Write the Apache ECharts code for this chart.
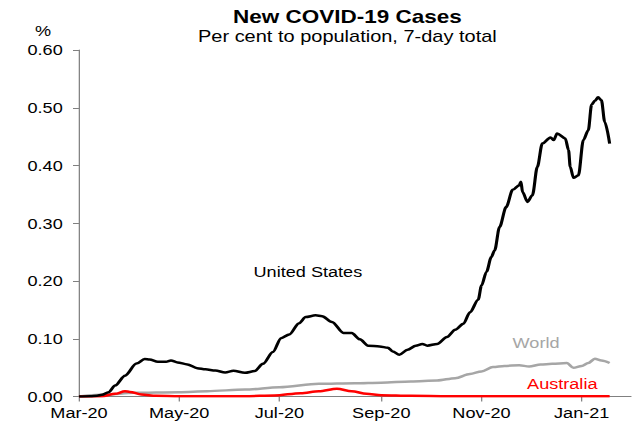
<!DOCTYPE html>
<html>
<head>
<meta charset="utf-8">
<script src="https://cdn.jsdelivr.net/npm/echarts@6/dist/echarts.min.js"></script>
<style>
  html, body { margin: 0; padding: 0; background: #fff; overflow: hidden; }
  #wrap { width: 641px; height: 422px; overflow: hidden; }
  /* chart is laid out narrower and widened horizontally */
  #chart { width: 513px; height: 422px; transform: scaleX(1.2495); transform-origin: 0 0; }
</style>
</head>
<body>
<div id="wrap"><div id="chart"></div></div>
<script>
// New COVID-19 cases, per cent of population, 7-day total
const usDates = ['2020-03-01','2020-03-08','2020-03-12','2020-03-15','2020-03-19','2020-03-23','2020-03-29','2020-04-05','2020-04-10','2020-04-13','2020-04-18','2020-04-23','2020-04-26','2020-04-30','2020-05-06','2020-05-12','2020-05-17','2020-05-23','2020-05-29','2020-06-03','2020-06-10','2020-06-16','2020-06-21','2020-06-27','2020-07-02','2020-07-07','2020-07-13','2020-07-17','2020-07-23','2020-07-27','2020-08-02','2020-08-09','2020-08-14','2020-08-19','2020-08-24','2020-08-31','2020-09-05','2020-09-08','2020-09-12','2020-09-17','2020-09-22','2020-09-26','2020-09-29','2020-10-05','2020-10-11','2020-10-16','2020-10-21','2020-10-25','2020-10-30','2020-11-01','2020-11-04','2020-11-07','2020-11-09','2020-11-12','2020-11-16','2020-11-20','2020-11-24','2020-11-25','2020-11-26','2020-11-29','2020-12-02','2020-12-05','2020-12-08','2020-12-13','2020-12-15','2020-12-17','2020-12-22','2020-12-24','2020-12-25','2020-12-27','2020-12-30','2021-01-02','2021-01-05','2021-01-07','2021-01-09','2021-01-11','2021-01-13','2021-01-15','2021-01-18'];
const usValues = [0,0.0005,0.0015,0.003,0.0075,0.019,0.036,0.057,0.065,0.064,0.060,0.060,0.0624,0.059,0.0555,0.049,0.047,0.045,0.0416,0.0445,0.041,0.044,0.0566,0.077,0.101,0.1075,0.127,0.1376,0.1405,0.139,0.129,0.110,0.110,0.099,0.088,0.0867,0.0844,0.078,0.0723,0.081,0.088,0.091,0.088,0.091,0.103,0.1156,0.126,0.146,0.1676,0.192,0.2156,0.2416,0.253,0.2936,0.328,0.358,0.366,0.372,0.354,0.337,0.3486,0.3977,0.438,0.4486,0.444,0.4555,0.4468,0.4266,0.3977,0.3786,0.383,0.444,0.461,0.505,0.512,0.518,0.513,0.4757,0.438];

const worldDates = ['2020-03-01','2020-03-18','2020-04-03','2020-05-01','2020-05-18','2020-06-10','2020-07-01','2020-07-25','2020-08-16','2020-09-01','2020-09-19','2020-10-05','2020-10-16','2020-10-25','2020-11-01','2020-11-08','2020-11-15','2020-11-24','2020-11-30','2020-12-07','2020-12-14','2020-12-23','2020-12-27','2021-01-01','2021-01-05','2021-01-09','2021-01-13','2021-01-18'];
const worldValues = [0.0002,0.0035,0.0064,0.0075,0.0092,0.012,0.016,0.022,0.023,0.024,0.026,0.0277,0.0318,0.039,0.0434,0.051,0.053,0.054,0.052,0.0555,0.0566,0.058,0.0497,0.053,0.058,0.0653,0.0624,0.058];

const ausDates = ['2020-03-01','2020-03-15','2020-03-23','2020-03-29','2020-04-01','2020-04-08','2020-04-17','2020-05-01','2020-06-10','2020-06-28','2020-07-14','2020-07-25','2020-08-05','2020-08-14','2020-08-23','2020-09-01','2020-09-19','2020-10-12','2021-01-18'];
const ausValues = [0,0.0005,0.0046,0.0092,0.008,0.0035,0.0012,0.0005,0.0005,0.0017,0.0058,0.0092,0.0135,0.0092,0.0046,0.0023,0.0012,0.0005,0.0004];

const tickDates = ['2020-03-01','2020-05-01','2020-07-01','2020-09-01','2020-11-01','2021-01-01'];
const monthNames = ['Jan','Feb','Mar','Apr','May','Jun','Jul','Aug','Sep','Oct','Nov','Dec'];

function toTime(s) {
  const p = s.split('-').map(Number);
  return new Date(p[0], p[1] - 1, p[2]).getTime();
}
function pairs(dates, values) {
  return dates.map((d, i) => [toTime(d), values[i]]);
}
const tickTimes = tickDates.map(toTime);

const FONT = "'Liberation Sans', Arial, sans-serif";

const chart = echarts.init(document.getElementById('chart'), null, { renderer: 'svg' });

const lineBase = {
  type: 'line',
  showSymbol: false,
  symbol: 'none',
  smooth: 0.3,
  smoothMonotone: 'x',
  animation: false
};

chart.setOption({
  animation: false,
  backgroundColor: '#fff',
  grid: { left: 63.2, right: 8, top: 50, bottom: 25.5, containLabel: false },
  xAxis: {
    // dates as timestamps on a value scale, ticks at every second month start
    type: 'value',
    min: toTime('2020-03-01'),
    max: toTime('2021-01-31'),
    axisLine: { show: true, lineStyle: { color: '#808080', width: 1 } },
    axisTick: { show: true, length: 5, customValues: tickTimes, lineStyle: { color: '#808080' } },
    axisLabel: {
      customValues: tickTimes,
      margin: 9,
      color: '#000',
      fontFamily: FONT,
      fontSize: 14.5,
      formatter: function (v) {
        const d = new Date(v);
        return monthNames[d.getMonth()] + '-' + String(d.getFullYear()).slice(2);
      }
    },
    splitLine: { show: false }
  },
  yAxis: {
    type: 'value',
    min: 0,
    max: 0.6,
    interval: 0.1,
    axisLine: { show: true, lineStyle: { color: '#808080', width: 1 } },
    axisTick: { show: true, inside: false, length: 4.8, lineStyle: { color: '#808080' } },
    axisLabel: {
      margin: 13,
      color: '#000',
      fontFamily: FONT,
      fontSize: 14.5,
      formatter: function (v) { return v.toFixed(2); }
    },
    splitLine: { show: false }
  },
  series: [
    Object.assign({}, lineBase, {
      name: 'World',
      data: pairs(worldDates, worldValues),
      lineStyle: { color: '#a6a6a6', width: 2.5 },
      z: 2
    }),
    Object.assign({}, lineBase, {
      name: 'Australia',
      data: pairs(ausDates, ausValues),
      lineStyle: { color: '#ff0000', width: 2.5 },
      z: 3
    }),
    Object.assign({}, lineBase, {
      name: 'United States',
      data: pairs(usDates, usValues),
      lineStyle: { color: '#000000', width: 2.5 },
      z: 4
    })
  ],
  graphic: [
    { type: 'text', x: 278, y: 17, style: { text: 'New COVID-19 Cases', font: "bold 18px " + FONT, fill: '#000', textAlign: 'center', textVerticalAlign: 'middle' } },
    { type: 'text', x: 278, y: 36.5, style: { text: 'Per cent to population, 7-day total', font: "16px " + FONT, fill: '#000', textAlign: 'center', textVerticalAlign: 'middle' } },
    { type: 'text', x: 34.4, y: 31, style: { text: '%', font: "14.5px " + FONT, fill: '#000', textAlign: 'center', textVerticalAlign: 'middle' } },
    { type: 'text', x: 246.4, y: 272, style: { text: 'United States', font: "14.5px " + FONT, fill: '#000', textAlign: 'center', textVerticalAlign: 'middle' } },
    { type: 'text', x: 429, y: 342.5, style: { text: 'World', font: "14.5px " + FONT, fill: '#a6a6a6', textAlign: 'center', textVerticalAlign: 'middle' } },
    { type: 'text', x: 450, y: 383.5, style: { text: 'Australia', font: "14.5px " + FONT, fill: '#ff0000', textAlign: 'center', textVerticalAlign: 'middle' } }
  ]
});
</script>
</body>
</html>
